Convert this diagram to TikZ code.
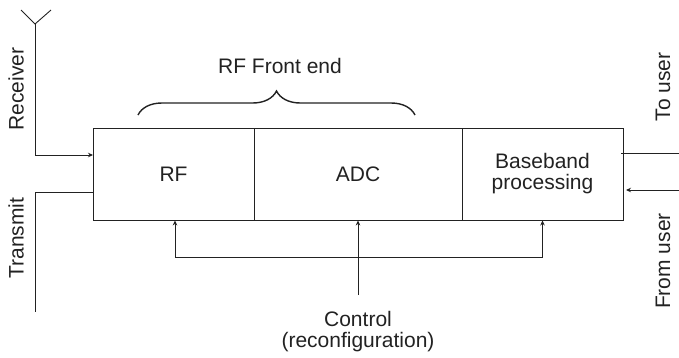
\documentclass[tikz,border=0pt]{standalone}
\usepackage{fontspec}
\setmainfont{Liberation Sans}
\usetikzlibrary{arrows.meta,decorations.pathreplacing}
\definecolor{ink}{HTML}{222222}
\begin{document}
\begin{tikzpicture}[x=1pt,y=-1pt,
  every node/.style={text=ink,font=\fontsize{21}{21}\selectfont},
  cell/.style={draw=ink,line width=0.9pt,inner sep=0pt,minimum height=92pt,align=center},
  wire/.style={draw=ink,line width=0.9pt},
  arr/.style={wire,-{Stealth[length=5pt,width=4.5pt]}},
  lbl/.style={rotate=90,anchor=center,inner sep=0pt}]
\useasboundingbox (0,0) rectangle (679,357);
% blocks
\node[cell,minimum width=161pt] (rf) at (173.5,174) {RF};
\node[cell,minimum width=208pt] (adc) at (358,174) {ADC};
\node[cell,minimum width=161pt] (bb) at (542.5,174) {Baseband\\processing};
% antenna / receiver
\coordinate (ant) at (35,24);
\coordinate (antl) at (21,10);
\coordinate (antr) at (51,10);
\coordinate (rxin) at (93,155);
\draw[wire] (antl) -- (ant) -- (antr);
\draw[arr] (ant) |- (rxin);
\node[lbl] (rxl) at (16,89) {Receiver};
% transmit
\coordinate (txout) at (93,192);
\coordinate (txend) at (35,312);
\draw[wire] (txout) -| (txend);
\node[lbl] (txl) at (16,238) {Transmit};
% user side
\coordinate (toout) at (621,153);
\coordinate (toend) at (679,153);
\coordinate (frin) at (626,190);
\coordinate (frstart) at (679,190);
\draw[wire] (toout) -- (toend);
\draw[arr] (frstart) -- (frin);
\node[lbl] (tol) at (663,87) {To user};
\node[lbl] (frl) at (663,261) {From user};
% brace
\coordinate (bl) at (138,115);
\coordinate (br) at (415,115);
\draw[draw=ink,line width=1.4pt,decorate,decoration={brace,amplitude=24pt}] (bl) -- (br);
\node (rfe) at (280,66) {RF Front end};
% control
\coordinate (ctl) at (358,295);
\coordinate (busl) at (175,257);
\coordinate (busr) at (542.5,257);
\draw[arr] (ctl) -- (adc.south);
\draw[wire] (busl) -- (busr);
\draw[arr] (busl) -- (busl |- rf.south);
\draw[arr] (busr) -- (bb.south);
\node[align=center] (ctltxt) at (358,332) {Control\\(reconfiguration)};
\end{tikzpicture}
\end{document}
